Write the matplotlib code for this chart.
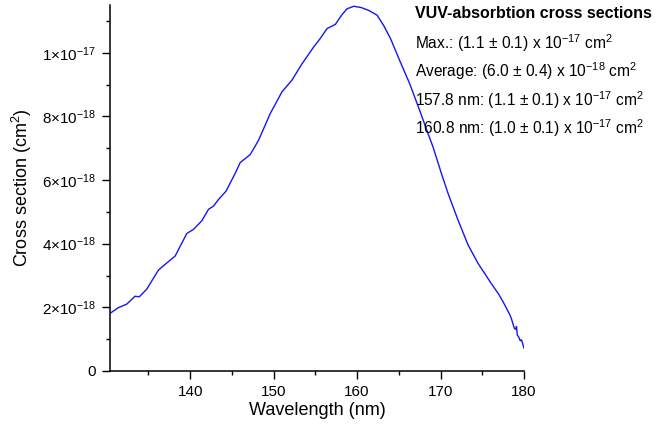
import numpy as np
import matplotlib
matplotlib.use("Agg")
import matplotlib.pyplot as plt
from matplotlib.ticker import FixedLocator, FuncFormatter

plt.rcParams['font.family'] = ['Liberation Sans', 'DejaVu Sans']
plt.rcParams['mathtext.fontset'] = 'custom'
plt.rcParams['mathtext.rm'] = 'Liberation Sans'
plt.rcParams['mathtext.it'] = 'Liberation Sans:italic'
plt.rcParams['mathtext.bf'] = 'Liberation Sans:bold'

# ── Data ───────────────────────────────────────────────────────────────────────
wavelength = [130.4, 131.4, 132.4, 133.4, 133.9, 134.8, 136.2, 137.0, 138.2,
              139.6, 140.4, 141.4, 142.2, 142.8, 143.4, 144.3, 145.4, 146.0,
              147.2, 148.2, 149.6, 151.0, 152.2, 153.4, 154.8, 155.6, 156.4,
              157.4, 158.2, 158.8, 159.6, 160.5, 161.4, 162.4, 163.2, 164.0,
              165.1, 166.3, 167.5, 168.5, 169.1, 170.1, 170.9, 172.1, 173.3,
              174.5, 175.0, 176.0, 177.0, 177.5, 178.0, 178.3, 178.5, 178.7,
              178.85, 179.0, 179.1, 179.2, 179.4, 179.55, 179.7, 179.85, 180.0]
cross_e18 = [1.81, 1.99, 2.10, 2.35, 2.33, 2.57, 3.17, 3.35, 3.61,
             4.32, 4.45, 4.72, 5.08, 5.18, 5.39, 5.65, 6.21, 6.55,
             6.80, 7.25, 8.09, 8.77, 9.14, 9.65, 10.18, 10.45, 10.76,
             10.89, 11.20, 11.38, 11.46, 11.42, 11.33, 11.18, 10.85, 10.45,
             9.76, 9.03, 8.19, 7.46, 7.04, 6.21, 5.58, 4.74, 3.96,
             3.38, 3.18, 2.78, 2.40, 2.17, 1.92, 1.77, 1.64, 1.46,
             1.34, 1.31, 1.40, 1.13, 1.05, 0.95, 0.98, 0.85, 0.72]
cross = np.array(cross_e18) * 1e-18

x_major = [140, 150, 160, 170, 180]
x_minor = [135, 145, 155, 165, 175]
y_major = [0, 2e-18, 4e-18, 6e-18, 8e-18, 1e-17]
y_minor = [1e-18, 3e-18, 5e-18, 7e-18, 9e-18, 1.1e-17]

info_title = "VUV-absorbtion cross sections"
info_lines = [r"Max.: (1.1 $\pm$ 0.1) x 10$^{-17}$ cm$^{2}$",
              r"Average: (6.0 $\pm$ 0.4) x 10$^{-18}$ cm$^{2}$",
              r"157.8 nm: (1.1 $\pm$ 0.1) x 10$^{-17}$ cm$^{2}$",
              r"160.8 nm: (1.0 $\pm$ 0.1) x 10$^{-17}$ cm$^{2}$"]

# ── Plot ───────────────────────────────────────────────────────────────────────
fig = plt.figure(figsize=(6.71, 4.32), dpi=100)
ax = fig.add_axes([110/671, 61/432, 414/671, 366/432])

ax.plot(wavelength, cross, color='#1515f5', lw=1.0)

ax.set_xlim(130.4, 180)
ax.set_ylim(0, 1.15e-17)

for side in ('top', 'right'):
    ax.spines[side].set_visible(False)
for side in ('left', 'bottom'):
    ax.spines[side].set_linewidth(1.1)

ax.xaxis.set_major_locator(FixedLocator(x_major))
ax.xaxis.set_minor_locator(FixedLocator(x_minor))
ax.yaxis.set_major_locator(FixedLocator(y_major))
ax.yaxis.set_minor_locator(FixedLocator(y_minor))


def sci_fmt(v, pos):
    if abs(v) < 1e-25:
        return "0"
    exp = int(np.floor(np.log10(abs(v)) + 1e-9))
    mant = v / 10**exp
    return r"%d$\times$10$^{%d}$" % (round(mant), exp)


ax.yaxis.set_major_formatter(FuncFormatter(sci_fmt))
ax.tick_params(which='major', direction='out', length=6, width=1, labelsize=11, pad=4)
ax.tick_params(which='minor', direction='out', length=3.2, width=1)

ax.set_xlabel("Wavelength (nm)", fontsize=13, labelpad=2)
ax.set_ylabel(r"Cross section (cm$^{2}$)", fontsize=13, labelpad=6)

# Info box
fig.text(415/671, 1 - 13/432, info_title, fontsize=11.5, fontweight='bold',
         ha='left', va='center')
for i, line in enumerate(info_lines):
    fig.text(415/671, 1 - (43 + 28.5*i)/432, line, fontsize=11.2,
             ha='left', va='center')

fig.savefig("out.png", dpi=100)
